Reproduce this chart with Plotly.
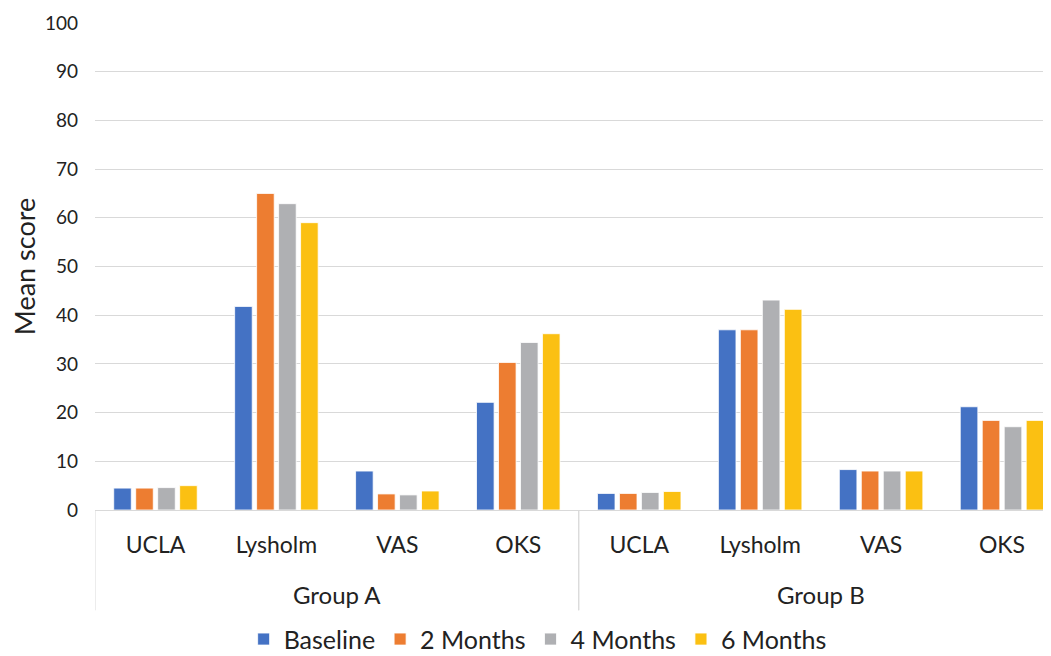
import plotly.graph_objects as go

groups = ["Group A"] * 4 + ["Group B"] * 4
measures = ["UCLA", "Lysholm", "VAS", "OKS"] * 2
series_names = ["Baseline", "2 Months", "4 Months", "6 Months"]
baseline = [4.5, 41.8, 8.0, 22.1, 3.4, 37.0, 8.3, 21.2]
months2 = [4.5, 65.0, 3.3, 30.3, 3.4, 37.0, 8.0, 18.4]
months4 = [4.6, 62.9, 3.1, 34.4, 3.6, 43.1, 8.0, 17.1]
months6 = [5.0, 59.0, 3.9, 36.2, 3.8, 41.2, 8.0, 18.4]
colors = ["#4472C4", "#ED7D31", "#AFB0B3", "#FBC012"]

FONT = "Lato"
TXT = "#222222"
GRID = "#d9d9d9"

pos = list(range(len(measures)))

fig = go.Figure()
for name, vals, col in zip(series_names, [baseline, months2, months4, months6], colors):
    fig.add_trace(go.Bar(
        x=pos, y=vals, name=name,
        marker=dict(color=col, line=dict(color="white", width=0.8)),
    ))

# group labels and dividers beneath the category labels
group_names = list(dict.fromkeys(groups))
for g in group_names:
    idx = [i for i, gg in enumerate(groups) if gg == g]
    fig.add_annotation(x=sum(idx) / len(idx), y=-0.1732, xref="x", yref="paper",
                       text=g, showarrow=False, yanchor="middle",
                       font=dict(size=24, family=FONT, color=TXT))
    for edge in (idx[0] - 0.5, idx[-1] + 0.5):
        fig.add_shape(type="line", xref="x", yref="paper", x0=edge, x1=edge,
                      y0=0, y1=-0.206, line=dict(color=GRID, width=1))

# page body has an 8px margin, so the figure is 8px smaller than the window
fig.update_layout(
    width=1043, height=648,
    paper_bgcolor="white", plot_bgcolor="white",
    margin=dict(l=87, r=0, t=15, b=145.5, autoexpand=False),
    barmode="group", bargap=0.273, bargroupgap=0.2,
    font=dict(family=FONT, color=TXT, size=19),
    showlegend=True,
    legend=dict(orientation="h", x=0.463, xanchor="center",
                y=-0.2655, yanchor="middle", font=dict(size=25, family=FONT, color=TXT),
                itemwidth=30),
)
fig.update_xaxes(
    range=[-0.5, 7.405], tickmode="array", tickvals=pos, ticktext=measures,
    showline=True, linecolor=GRID, linewidth=1,
    tickfont=dict(size=23, family=FONT, color=TXT),
    ticks="", showgrid=False, zeroline=False, tickangle=0, automargin=False,
    ticklabelstandoff=14,
)
fig.update_yaxes(
    range=[0, 100], dtick=10, showgrid=True, gridcolor=GRID, gridwidth=1,
    zeroline=False, showline=False, ticks="", automargin=False,
    tickfont=dict(size=19, family=FONT, color=TXT), ticklabelstandoff=16,
    title=dict(text="Mean score", font=dict(size=27, family=FONT, color=TXT), standoff=15),
)

fig.write_html("out.html")
